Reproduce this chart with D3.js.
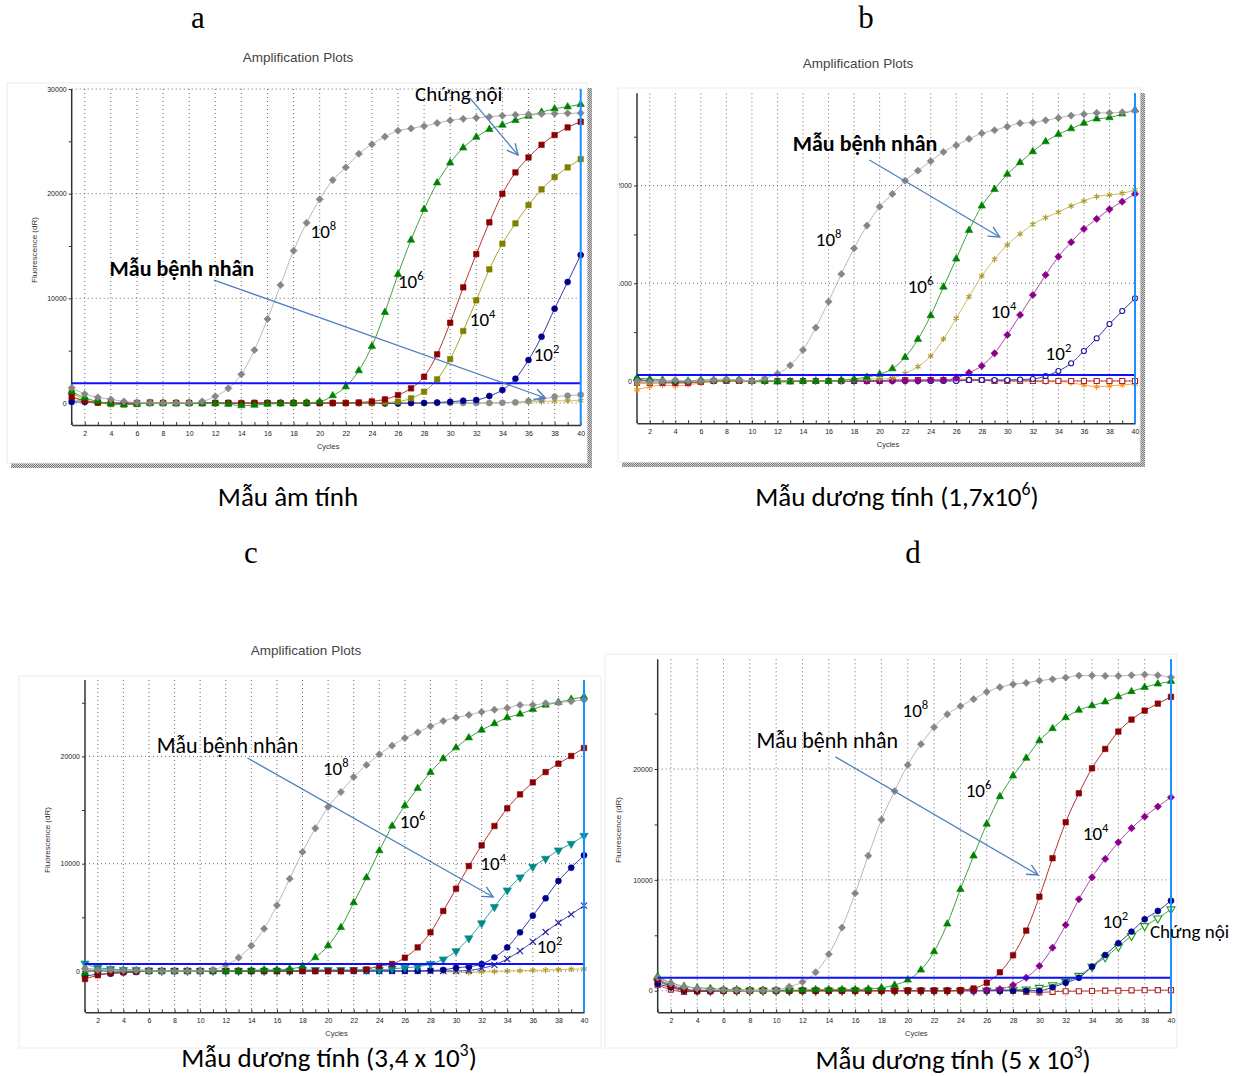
<!DOCTYPE html>
<html>
<head>
<meta charset="utf-8">
<script src="https://cdn.jsdelivr.net/npm/d3@7"></script>
<style>
body { margin: 0; background: #fff; }
svg { display: block; }
</style>
</head>
<body>
<svg id="fig" width="1245" height="1076"></svg>
<script>
var cycles = d3.range(1, 41);
var xTickLabels = d3.range(2, 41, 2);

// panel a - negative sample
var a_1e8 = [1460,860,540,350,150,60,20,0,0,20, 150,640,1400,2740,5060,8020,11270,14550,17220,19460, 21300,22510,23810,24710,25440,26010,26230,26460,26740,27000, 27150,27250,27350,27450,27530,27580,27620,27650,27680,27700];
var a_1e6 = [1100,500,150,-50,-150,-100,0,0,-50,0, -50,-50,-100,-250,-200,-100,-50,0,20,120, 700,1560,3090,5420,8660,12290,15570,18500,21040,22950, 24380,25400,26140,26550,27000,27410,27790,28110,28300,28530];
var a_ic  = [600,200,50,0,-50,0,50,0,0,0, 0,0,0,-50,0,0,0,0,0,0, 0,0,50,150,350,760,1400,2510,4650,7670, 11050,14230,17260,19990,22030,23460,24670,25600,26330,26870];
var a_1e4 = [1000,300,50,-100,-150,-100,0,0,0,0, 0,0,0,0,0,0,0,0,0,0, 0,0,0,0,50,120,450,1080,2260,4200, 6880,9810,12770,15220,17160,18910,20410,21580,22510,23300];
var a_1e2 = [100,100,50,0,0,0,0,0,0,0, 0,0,0,0,0,0,0,0,0,0, 0,0,0,0,-50,-50,0,0,50,120, 220,290,670,1240,2320,4110,6330,9010,11560,14140];
var a_pt  = [300,200,100,0,0,0,0,0,0,0, 0,0,0,0,0,0,0,0,0,0, 0,0,0,0,0,0,0,0,0,0, 0,0,0,20,60,190,350,600,700,800];
var a_neg = [600,200,0,-100,-100,-50,0,0,0,0, 0,0,0,0,0,0,0,0,0,0, 0,0,0,0,0,0,0,0,0,0, 0,0,0,50,80,100,150,200,220,230];
var a_thr = 1900;

// panel b - positive 1,7x10^6
var b_1e8 = [0,-10,0,10,0,0,10,20,10,0, 28,75,160,317,546,812,1095,1358,1590,1784, 1914,2050,2152,2249,2344,2412,2477,2535,2566,2603, 2638,2644,2668,2692,2716,2730,2743,2743,2750,2764];
var b_1e6 = [30,20,10,0,0,10,10,10,10,0, 0,-10,-10,0,0,0,10,20,40,69, 126,243,427,669,962,1249,1542,1791,1962,2116, 2235,2347,2449,2525,2582,2638,2682,2695,2733,2774];
var b_pt  = [-30,-20,-10,0,0,0,0,10,10,0, 0,0,0,0,0,0,0,10,20,20, 30,78,147,256,430,642,863,1075,1245,1392, 1505,1604,1672,1727,1791,1842,1887,1904,1921,1955];
var b_1e4 = [10,0,0,-10,-10,0,10,10,10,0, 0,0,0,0,0,0,0,0,0,0, 0,0,0,10,10,30,85,154,283,471, 676,880,1085,1272,1420,1556,1658,1757,1835,1914];
var b_1e2 = [20,0,-10,-10,-10,0,0,10,10,0, 0,0,0,0,0,0,0,0,0,0, 0,0,0,0,0,0,10,10,10,10, 15,20,51,102,181,307,437,583,716,846];
var b_neg1 = [-90,-60,-40,-50,-40,-20,-10,0,0,-10, -10,0,0,0,0,0,0,0,0,0, 10,10,10,10,10,20,20,10,10,10, 10,0,-10,-5,-20,-40,-60,-50,-40,-30];
var b_neg2 = [-20,-20,-20,-20,-20,-10,0,0,0,0, 0,0,0,0,0,0,0,0,0,0, 10,10,10,10,10,10,10,10,0,0, 0,0,0,0,0,0,0,0,0,0];
var b_thr = 60;

// panel c - positive 3,4 x 10^3
var c_1e8 = [200,100,100,50,50,0,0,0,0,0, 100,560,1240,2360,3940,6120,8600,11090,13300,15290, 16680,18080,19200,20190,21000,21710,22240,22800,23300,23610, 23860,24140,24350,24510,24790,24790,24950,25010,25130,25260];
var c_1e6 = [-200,100,100,100,50,0,0,0,0,0, 0,0,0,50,100,100,200,450,1250,2360, 4060,6370,8700,11210,13510,15410,17030,18520,19790,20810, 21740,22460,23050,23610,23950,24390,24790,25040,25320,25560];
var c_1e4 = [-750,-400,-200,-100,-50,0,0,0,0,0, 0,0,0,0,0,0,0,0,0,0, 0,50,150,470,650,1240,2200,3600,5590,7670, 9780,11710,13510,15160,16460,17580,18540,19320,20040,20780];
var c_pt  = [700,300,200,100,100,50,0,0,0,0, 0,0,0,0,0,0,0,100,100,100, 100,100,100,100,200,300,400,650,1090,1860, 3050,4450,5970,7520,8730,9720,10470,11250,11860,12610];
var c_nav = [-500,-300,-250,-150,-100,0,0,0,0,0, 0,0,0,0,0,0,0,0,0,0, 0,0,0,0,0,0,0,50,100,310, 400,650,1270,2200,3600,5150,6770,8390,9630,10780];
var c_1e2 = [0,0,0,0,0,0,0,0,0,0, 0,0,0,0,0,0,0,0,0,0, 0,0,0,0,0,0,0,0,0,0, 50,250,560,1120,1860,2730,3630,4500,5280,6090];
var c_neg = [300,150,100,50,0,0,0,0,0,0, 0,0,0,0,0,0,0,0,0,0, 0,0,0,0,0,0,0,0,-50,-100, -150,-100,-50,0,30,60,80,130,160,180];
var c_thr = 650;

// panel d - positive 5 x 10^3
var d_1e8 = [1200,660,360,200,100,50,50,0,0,50, 360,785,1660,3290,5690,8790,12180,15430,18010,20370, 22240,23770,24940,25670,26300,26960,27380,27650,27770,27980, 28100,28250,28430,28430,28400,28400,28460,28520,28460,28280];
var d_1e6 = [1300,700,400,250,200,100,100,50,50,50, 50,50,100,100,100,100,150,250,510,970, 1870,3520,6020,9150,12160,15040,17510,19380,20980,22560, 23650,24640,25310,25720,26060,26530,26990,27380,27680,27920];
var d_pt  = [1000,400,100,0,0,0,0,0,0,0, 0,0,0,0,0,0,0,0,0,0, 0,0,0,50,200,720,1660,3190,5420,8480, 11950,15200,17810,20070,21810,23380,24460,25270,25900,26510];
var d_1e4 = [1100,500,200,0,0,0,0,0,0,0, 0,0,0,0,0,0,0,0,0,0, 0,0,0,0,0,50,150,510,1170,2230, 3880,5930,8250,10230,11890,13390,14660,15700,16610,17450];
var d_1e2 = [600,300,0,-50,-50,0,0,0,0,0, 0,0,0,0,0,0,0,0,0,0, 0,0,0,0,0,0,0,0,0,0, 310,720,1170,2170,3220,4280,5330,6440,7190,8120];
var d_ic  = [800,400,100,0,0,0,0,0,0,0, 0,0,0,0,0,0,0,0,0,0, 0,0,0,0,0,0,50,100,120,270, 510,810,1350,2170,3010,3970,4940,5840,6530,7350];
var d_neg = [500,100,-100,-50,-50,0,0,0,0,0, 0,0,0,0,0,0,0,0,0,0, 0,0,0,0,0,0,0,0,-100,-150, -100,-50,-50,-30,0,0,30,50,50,50];
var d_thr = 1170;

var ANN = "Carlito, Lato, 'Noto Sans', sans-serif";
var AX = "'Liberation Sans', Arial, sans-serif";

var sty = {
  gray:   {color: "#868686", line: "#b8b8b8", shape: d3.symbolSquare, size: 26, rot: 45},
  green:  {color: "#008000", line: "#3aa53a", shape: d3.symbolTriangle, size: 24},
  red:    {color: "#8b0000", line: "#b03434", shape: d3.symbolSquare, size: 30},
  olive:  {color: "#808000", line: "#a5a52a", shape: d3.symbolSquare, size: 30},
  navy:   {color: "#00008b", line: "#3a3aa8", shape: d3.symbolCircle, size: 28},
  grayc:  {color: "#8c8c8c", line: "#b0b0b0", shape: d3.symbolCircle, size: 28},
  star:   {color: "#a89a2a", line: "#c8c060", shape: d3.symbolAsterisk, size: 26, stroke: true},
  purple: {color: "#8b008b", line: "#b048b0", shape: d3.symbolSquare, size: 26, rot: 45},
  navyo:  {color: "#1a1aa0", line: "#3a3aa8", shape: d3.symbolCircle, size: 20, open: true},
  orange: {color: "#ff8c1a", line: "#ffa040", shape: d3.symbolAsterisk, size: 26, stroke: true},
  redo:   {color: "#b22222", line: "#c04040", shape: d3.symbolSquare, size: 26, open: true},
  teal:   {color: "#008b8b", line: "#30a0a0", shape: d3.symbolTriangle, size: 30, rot: 180},
  navyx:  {color: "#2020a0", line: "#4040b0", shape: d3.symbolTimes, size: 26, stroke: true},
  greeno: {color: "#1a9a1a", line: "#40b040", shape: d3.symbolTriangle, size: 28, open: true, rot: 180}
};

var panels = [
  {
    frame: [7, 83, 580, 380], shadow: true, title: [298, 62],
    left: 71.7, right: 580.7, top: 89, bottom: 425, yDomain: [-2100, 30000],
    yTicks: d3.range(0, 30001, 5000), yLabels: [0, 10000, 20000, 30000],
    yTitle: [37, 250], thr: a_thr,
    series: [[a_neg, "star"], [a_pt, "grayc"], [a_1e2, "navy"], [a_1e4, "olive"], [a_ic, "red"], [a_1e6, "green"], [a_1e8, "gray"]],
    texts: [
      {parts: ["Chứng nội"], c: 27.3, v: 28850, size: 21},
      {parts: ["Mẫu bệnh nhân"], c: 3.9, v: 12150, size: 22, bold: true},
      {parts: ["10", {sup: "8"}], c: 19.3, v: 15760, size: 19},
      {parts: ["10", {sup: "6"}], c: 26.0, v: 10980, size: 19},
      {parts: ["10", {sup: "4"}], c: 31.5, v: 7350, size: 19},
      {parts: ["10", {sup: "2"}], c: 36.4, v: 4010, size: 19}
    ],
    arrows: [[31.5, 29150, 35.2, 23690], [11.9, 11750, 37.3, 480]]
  },
  {
    frame: [618, 88, 522, 374], shadow: true, title: [858, 68],
    left: 637, right: 1135, top: 93.3, bottom: 423.3, yDomain: [-433, 2944],
    yTicks: d3.range(0, 2501, 500), yLabels: [0, 1000, 2000],
    yTitle: null, thr: b_thr,
    series: [[b_neg1, "orange"], [b_neg2, "redo"], [b_1e2, "navyo"], [b_1e4, "purple"], [b_pt, "star"], [b_1e6, "green"], [b_1e8, "gray"]],
    texts: [
      {parts: ["Mẫu bệnh nhân"], c: 13.2, v: 2354, size: 22, bold: true},
      {parts: ["10", {sup: "8"}], c: 15.0, v: 1382, size: 19},
      {parts: ["10", {sup: "6"}], c: 22.2, v: 900, size: 19},
      {parts: ["10", {sup: "4"}], c: 28.7, v: 645, size: 19},
      {parts: ["10", {sup: "2"}], c: 33.0, v: 215, size: 19}
    ],
    arrows: [[19.2, 2262, 29.4, 1474]]
  },
  {
    frame: [19, 676, 582, 372], shadow: false, title: [306, 655],
    left: 85, right: 584, top: 680, bottom: 1012.3, yDomain: [-3850, 27120],
    yTicks: d3.range(0, 25001, 5000), yLabels: [0, 10000, 20000],
    yTitle: [50, 840], thr: c_thr,
    series: [[c_neg, "star"], [c_1e2, "navyx"], [c_nav, "navy"], [c_pt, "teal"], [c_1e4, "red"], [c_1e6, "green"], [c_1e8, "gray"]],
    texts: [
      {parts: ["Mẫu bệnh nhân"], c: 6.6, v: 20320, size: 22},
      {parts: ["10", {sup: "8"}], c: 19.6, v: 18270, size: 19},
      {parts: ["10", {sup: "6"}], c: 25.6, v: 13330, size: 19},
      {parts: ["10", {sup: "4"}], c: 31.9, v: 9410, size: 19},
      {parts: ["10", {sup: "2"}], c: 36.3, v: 1680, size: 19}
    ],
    arrows: [[13.7, 19850, 32.9, 6900]]
  },
  {
    frame: [605, 654, 572, 394], shadow: false, title: null,
    left: 657.7, right: 1171, top: 659.3, bottom: 1012.3, yDomain: [-1950, 29900],
    yTicks: d3.range(0, 25001, 5000), yLabels: [0, 10000, 20000],
    yTitle: [621, 830], thr: d_thr,
    series: [[d_neg, "redo"], [d_ic, "greeno"], [d_1e2, "navy"], [d_1e4, "purple"], [d_pt, "red"], [d_1e6, "green"], [d_1e8, "gray"]],
    texts: [
      {parts: ["Mẫu bệnh nhân"], c: 8.5, v: 21900, size: 22},
      {parts: ["10", {sup: "8"}], c: 19.6, v: 24700, size: 19},
      {parts: ["10", {sup: "6"}], c: 24.4, v: 17480, size: 19},
      {parts: ["10", {sup: "4"}], c: 33.3, v: 13600, size: 19},
      {parts: ["10", {sup: "2"}], c: 34.8, v: 5660, size: 19},
      {parts: ["Chứng nội"], c: 38.4, v: 4760, size: 19}
    ],
    arrows: [[14.5, 21100, 29.9, 10440]]
  }
];

var letters = [["a", 198, 28], ["b", 866, 28], ["c", 251, 563], ["d", 913, 563]];
var captions = [
  [["Mẫu âm tính"], 288, 506],
  [["Mẫu dương tính (1,7x10", {sup: "6"}, ")"], 897, 506],
  [["Mẫu dương tính (3,4 x 10", {sup: "3"}, ")"], 329, 1067],
  [["Mẫu dương tính (5 x 10", {sup: "3"}, ")"], 953, 1069]
];

var svg = d3.select("#fig");
var defs = svg.append("defs");

var pat = defs.append("pattern").attr("id", "hatch")
  .attr("width", 2).attr("height", 2).attr("patternUnits", "userSpaceOnUse");
pat.append("rect").attr("width", 2).attr("height", 2).attr("fill", "#d4d4d4");
pat.append("rect").attr("width", 1).attr("height", 1).attr("fill", "#7a7a7a");
pat.append("rect").attr("x", 1).attr("y", 1).attr("width", 1).attr("height", 1).attr("fill", "#7a7a7a");

defs.append("marker").attr("id", "arr")
  .attr("viewBox", "0 0 12 12").attr("refX", 11).attr("refY", 6)
  .attr("markerWidth", 13).attr("markerHeight", 13)
  .attr("markerUnits", "userSpaceOnUse").attr("orient", "auto")
  .append("path").attr("d", "M1,1 L11,6 L1,11")
  .attr("fill", "none").attr("stroke", "#4f81bd").attr("stroke-width", 1.3);

function rich(g, x, y, parts, size, anchor, weight, family) {
  var t = g.append("text").attr("x", x).attr("y", y)
    .attr("font-size", size).attr("text-anchor", anchor || "start")
    .attr("font-weight", weight || "normal")
    .attr("font-family", family || ANN).attr("fill", "#000");
  var up = false;
  parts.forEach(function(p) {
    var isSup = typeof p === "object";
    var ts = t.append("tspan").text(isSup ? p.sup : p);
    if (isSup) ts.attr("font-size", size * 0.66).attr("dy", -size * 0.4);
    else if (up) ts.attr("dy", size * 0.4);
    up = isSup;
  });
  return t;
}

panels.forEach(function(p, pi) {
  var g = svg.append("g");
  var f = p.frame;

  if (p.shadow) {
    g.append("rect").attr("x", f[0] + f[2]).attr("y", f[1] + 5).attr("width", 5).attr("height", f[3])
      .attr("fill", "url(#hatch)");
    g.append("rect").attr("x", f[0] + 4).attr("y", f[1] + f[3]).attr("width", f[2] + 1).attr("height", 5)
      .attr("fill", "url(#hatch)");
  }
  g.append("rect").attr("x", f[0]).attr("y", f[1]).attr("width", f[2]).attr("height", f[3])
    .attr("fill", "#fff").attr("stroke", "#ececec");

  var clipId = "clip" + pi;
  defs.append("clipPath").attr("id", clipId).append("rect")
    .attr("x", f[0] + 1).attr("y", f[1]).attr("width", f[2] - 1).attr("height", f[3]);
  var inner = g.append("g").attr("clip-path", "url(#" + clipId + ")");

  var x = d3.scaleLinear().domain([1, 40]).range([p.left, p.right]);
  var y = d3.scaleLinear().domain(p.yDomain).range([p.bottom, p.top]);

  // grid
  inner.append("g").selectAll("line").data(xTickLabels).enter().append("line")
    .attr("x1", function(d) { return x(d); }).attr("x2", function(d) { return x(d); })
    .attr("y1", p.top).attr("y2", p.bottom)
    .attr("stroke", "#6a6a6a").attr("stroke-width", 1).attr("stroke-dasharray", "1,3");
  inner.append("g").selectAll("line").data(p.yLabels).enter().append("line")
    .attr("x1", p.left).attr("x2", p.right)
    .attr("y1", function(d) { return y(d); }).attr("y2", function(d) { return y(d); })
    .attr("stroke", "#6a6a6a").attr("stroke-width", 1).attr("stroke-dasharray", "1,3");

  // axes
  var yAxis = d3.axisLeft(y).tickValues(p.yTicks).tickSizeInner(3).tickSizeOuter(0).tickPadding(2)
    .tickFormat(function(d) { return p.yLabels.indexOf(d) >= 0 ? d : ""; });
  var xAxis = d3.axisBottom(x).tickValues(cycles).tickSizeInner(-3).tickSizeOuter(0).tickPadding(6)
    .tickFormat(function(d) { return d % 2 === 0 ? d : ""; });

  var ya = inner.append("g").attr("transform", "translate(" + p.left + ",0)").call(yAxis);
  var xa = inner.append("g").attr("transform", "translate(0," + p.bottom + ")").call(xAxis);
  [ya, xa].forEach(function(a) {
    a.select(".domain").attr("stroke", "#333").attr("stroke-width", 1.5);
    a.selectAll(".tick line").attr("stroke", "#333");
    a.selectAll(".tick text").attr("font-family", AX).attr("font-size", 7).attr("fill", "#222");
  });
  ya.select(".domain").attr("d", "M0," + p.bottom + "V" + p.top);

  inner.append("text").attr("x", (p.left + p.right) / 2 + 2).attr("y", p.bottom + 24)
    .attr("text-anchor", "middle").attr("font-family", AX).attr("font-size", 7.5).attr("fill", "#333")
    .text("Cycles");
  if (p.yTitle) {
    inner.append("text").attr("transform", "translate(" + p.yTitle[0] + "," + p.yTitle[1] + ") rotate(-90)")
      .attr("text-anchor", "middle").attr("font-family", AX).attr("font-size", 8).attr("fill", "#333")
      .text("Fluorescence (dR)");
  }

  // series
  var line = d3.line()
    .x(function(d, i) { return x(cycles[i]); })
    .y(function(d) { return y(d); })
    .curve(d3.curveMonotoneX);
  p.series.forEach(function(s) {
    var st = sty[s[1]];
    inner.append("path").datum(s[0]).attr("d", line)
      .attr("fill", "none").attr("stroke", st.line).attr("stroke-width", 1);
    inner.append("g").selectAll("path").data(s[0]).enter().append("path")
      .attr("transform", function(d, i) {
        return "translate(" + x(cycles[i]) + "," + y(d) + ")" + (st.rot ? " rotate(" + st.rot + ")" : "");
      })
      .attr("d", d3.symbol().type(st.shape).size(st.size))
      .attr("fill", st.stroke ? "none" : (st.open ? "#fff" : st.color))
      .attr("stroke", st.color).attr("stroke-width", st.stroke || st.open ? 1.1 : 0.6);
  });

  // threshold and end line
  inner.append("line").attr("x1", p.left).attr("x2", x(40))
    .attr("y1", y(p.thr)).attr("y2", y(p.thr))
    .attr("stroke", "#1010ff").attr("stroke-width", 2);
  inner.append("line").attr("x1", x(40)).attr("x2", x(40))
    .attr("y1", p.top).attr("y2", p.bottom)
    .attr("stroke", "#1e8fff").attr("stroke-width", 2);

  // annotations
  p.arrows.forEach(function(a) {
    g.append("line").attr("x1", x(a[0])).attr("y1", y(a[1])).attr("x2", x(a[2])).attr("y2", y(a[3]))
      .attr("stroke", "#4f81bd").attr("stroke-width", 1.3).attr("marker-end", "url(#arr)");
  });
  p.texts.forEach(function(t) {
    rich(g, x(t.c), y(t.v), t.parts, t.size, "start", t.bold ? "bold" : "normal");
  });

  if (p.title) {
    svg.append("text").attr("x", p.title[0]).attr("y", p.title[1]).attr("text-anchor", "middle")
      .attr("font-family", AX).attr("font-size", 13.5).attr("fill", "#444").text("Amplification Plots");
  }
});

letters.forEach(function(l) {
  svg.append("text").attr("x", l[1]).attr("y", l[2]).attr("text-anchor", "middle")
    .attr("font-family", "'Liberation Serif', 'Times New Roman', serif").attr("font-size", 31)
    .attr("fill", "#000").text(l[0]);
});
captions.forEach(function(c) {
  rich(svg, c[1], c[2], c[0], 27, "middle", "normal");
});
</script>
</body>
</html>
